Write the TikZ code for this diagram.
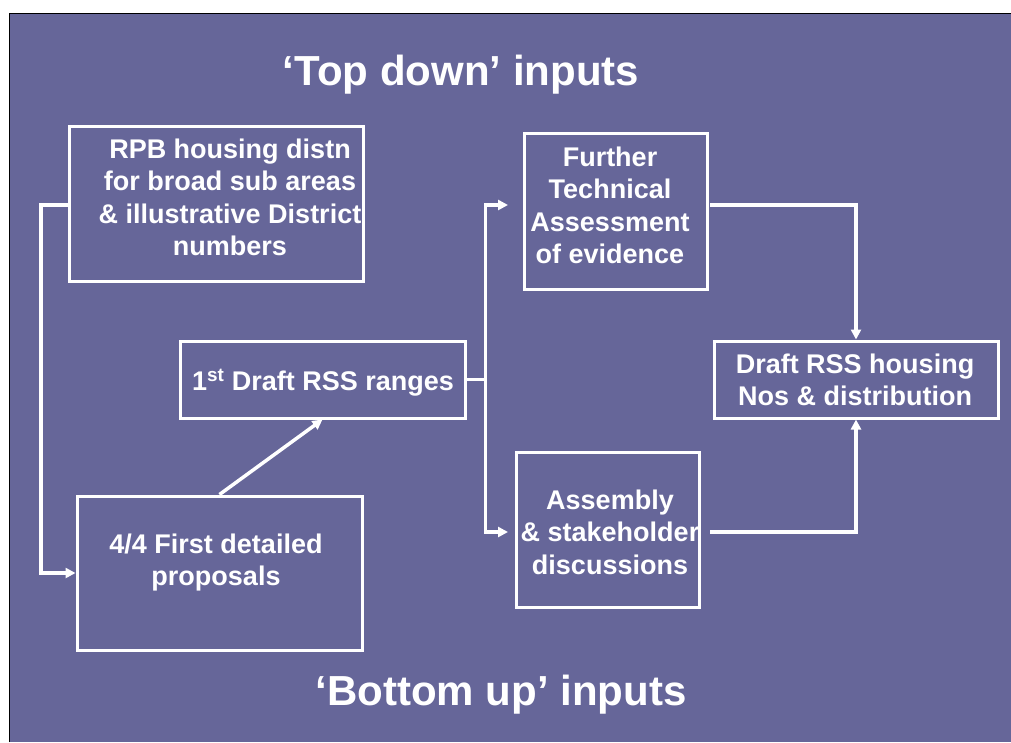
\documentclass[tikz,border=0pt]{standalone}
\usepackage{fontspec}
\setmainfont{Liberation Sans}
\usetikzlibrary{arrows.meta}
\definecolor{panelblue}{RGB}{102,102,153}
\begin{document}
\begin{tikzpicture}[x=1pt,y=-1pt,
  box/.style={draw=white, line width=3pt, inner sep=0pt, rectangle},
  lbl/.style={anchor=north, inner sep=0pt, align=center, text=white,
              font=\fontsize{27}{32.5}\selectfont\bfseries},
  heading/.style={anchor=north, inner sep=0pt, text=white,
              font=\fontsize{42}{50}\selectfont\bfseries},
  conn/.style={draw=white, line width=3.5pt},
  tip/.style={-{Triangle[length=10pt,width=10pt]}}]

% page and panel
\useasboundingbox (0,0) rectangle (1011,742);
\fill[white] (0,0) rectangle (1011,742);
\fill[panelblue] (9,13) rectangle (1011,742);
\draw[black, line width=1pt] (9,742) -- (9,13) -- (1011,13);

% headings
\node[heading] (tophead) at (461,50) {\strut‘Top down’ inputs};
\node[heading] (bothead) at (501,670) {\strut‘Bottom up’ inputs};

% box texts
\node[lbl] (rpbtxt) at (230,135.25) {\strut RPB housing distn\\for broad sub areas\\\& illustrative District\\numbers};
\node[lbl] (proptxt) at (216,530.25) {\strut 4/4 First detailed\\proposals};
\node[lbl] (dtxt) at (323,367.25) {\strut 1\textsuperscript{st} Draft RSS ranges};
\node[lbl] (furtxt) at (610,143.25) {\strut Further\\Technical\\Assessment\\of evidence};
\node[lbl] (asmtxt) at (610,486.25) {\strut Assembly\\\& stakeholder\\discussions};
\node[lbl] (fintxt) at (855,350.25) {\strut Draft RSS housing\\Nos \& distribution};

% boxes
\node[box, minimum width=294pt, minimum height=155pt] (rpb) at (216,203.5) {};
\node[box, minimum width=285pt, minimum height=154pt] (prop) at (219.5,573) {};
\node[box, minimum width=285pt, minimum height=77pt] (draft1) at (322.5,379.5) {};
\node[box, minimum width=183pt, minimum height=156pt] (further) at (615.5,211) {};
\node[box, minimum width=183pt, minimum height=155pt] (assembly) at (607.5,529.5) {};
\node[box, minimum width=284pt, minimum height=77pt] (final) at (856,379.5) {};

% routing points
\coordinate (lx) at (41,205);
\coordinate (split) at (485.5,379.5);
\coordinate (tipA) at (508,205);
\coordinate (tipB) at (508,532);
\coordinate (rx) at (710,0);

% connectors
\draw[conn, tip] (rpb.west |- lx) -- (lx) |- (prop.west);
\draw[conn, tip] (prop.north) -- (draft1.south);
\draw[conn] (draft1.east) -- (split);
\draw[conn, tip] (split) |- (tipA);
\draw[conn, tip] (split) |- (tipB);
\draw[conn, tip] (rx |- tipA) -| (final.north);
\draw[conn, tip] (rx |- tipB) -| (final.south);
\end{tikzpicture}
\end{document}
